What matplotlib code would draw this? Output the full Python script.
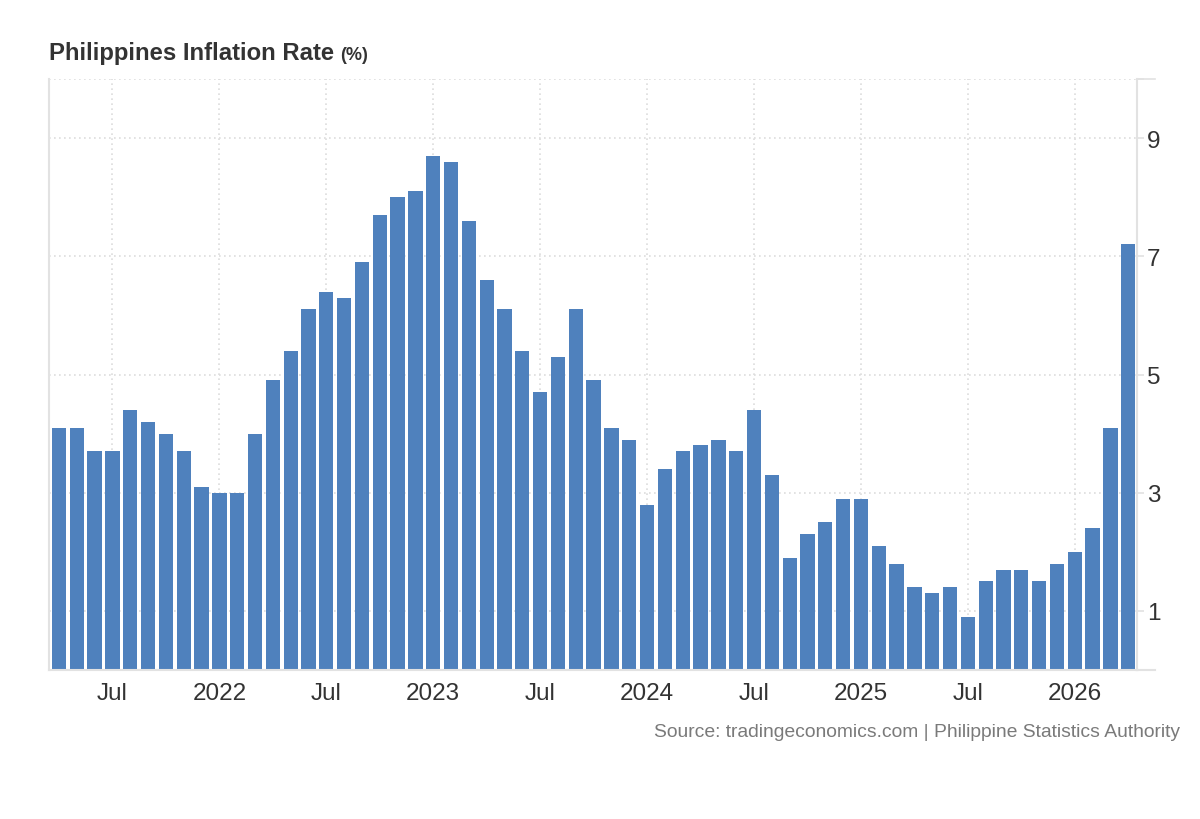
import matplotlib
matplotlib.use("Agg")
import matplotlib.pyplot as plt

plt.rcParams['font.family'] = ['Liberation Sans', 'DejaVu Sans']

# monthly inflation, Apr 2021 .. Apr 2026
months_start = (2021, 4)
inflation = [
    4.1, 4.1, 3.7, 3.7, 4.4, 4.2, 4.0, 3.7, 3.1,
    3.0, 3.0, 4.0, 4.9, 5.4, 6.1, 6.4, 6.3, 6.9, 7.7, 8.0, 8.1,
    8.7, 8.6, 7.6, 6.6, 6.1, 5.4, 4.7, 5.3, 6.1, 4.9, 4.1, 3.9,
    2.8, 3.4, 3.7, 3.8, 3.9, 3.7, 4.4, 3.3, 1.9, 2.3, 2.5, 2.9,
    2.9, 2.1, 1.8, 1.4, 1.3, 1.4, 0.9, 1.5, 1.7, 1.7, 1.5, 1.8,
    2.0, 2.4, 4.1, 7.2,
]
tick_labels = ["Jul", "2022", "Jul", "2023", "Jul", "2024", "Jul", "2025", "Jul", "2026"]
y_ticks = [1, 3, 5, 7, 9]

BAR = "#4f81bd"
GRID = "#dddddd"
SPINE = "#e2e2e2"
TEXT = "#333333"


def month_index(year, month):
    return (year - months_start[0]) * 12 + (month - months_start[1])


x = list(range(len(inflation)))
tick_pos = []
for y in range(2021, 2027):
    for m in (1, 7):
        i = month_index(y, m)
        if 0 <= i < len(inflation):
            tick_pos.append(i)

fig = plt.figure(figsize=(12, 8.2), dpi=100)
ax = fig.add_axes([49 / 1200, 1 - 671 / 820, 1088 / 1200, 591 / 820])

ax.bar(x, inflation, width=0.8, color=BAR, zorder=2)

ax.set_xlim(-0.56, 60.49)
ax.set_ylim(0, 10)

ax.yaxis.tick_right()
ax.set_yticks(y_ticks + [10])
ax.set_yticklabels([str(v) for v in y_ticks] + [""])
ax.set_xticks(tick_pos)
ax.set_xticklabels(tick_labels)

ax.tick_params(axis='x', length=0, pad=9, labelsize=17.5, labelcolor=TEXT)
ax.tick_params(axis='y', length=5, color=SPINE, width=1.2, pad=2, labelsize=17.5, labelcolor=TEXT)

ax.grid(True, linestyle=(0, (1, 2)), color=GRID, linewidth=1.2, zorder=0)

for side in ('left', 'right', 'bottom'):
    ax.spines[side].set_color(SPINE)
    ax.spines[side].set_linewidth(1.5)
ax.spines['top'].set_visible(False)

# bottom line runs a bit past the right spine
ax.plot([1, 1.0165], [0, 0], transform=ax.transAxes, color=SPINE,
        linewidth=1.5, clip_on=False)
ax.plot([1, 1.0165], [1, 1], transform=ax.transAxes, color=SPINE,
        linewidth=1.2, clip_on=False)

fig.text(49 / 1200, 1 - 60 / 820, "Philippines Inflation Rate", fontsize=17.2,
         fontweight='bold', color=TEXT, ha='left', va='baseline')
fig.text(340 / 1200, 1 - 60 / 820, "(%)", fontsize=13,
         fontweight='bold', color=TEXT, ha='left', va='baseline')

fig.text(1180 / 1200, 1 - 737 / 820,
         "Source: tradingeconomics.com | Philippine Statistics Authority",
         fontsize=13.85, color="#7a7a7a", ha='right', va='baseline')

fig.savefig("out.png", dpi=100, facecolor="white")
